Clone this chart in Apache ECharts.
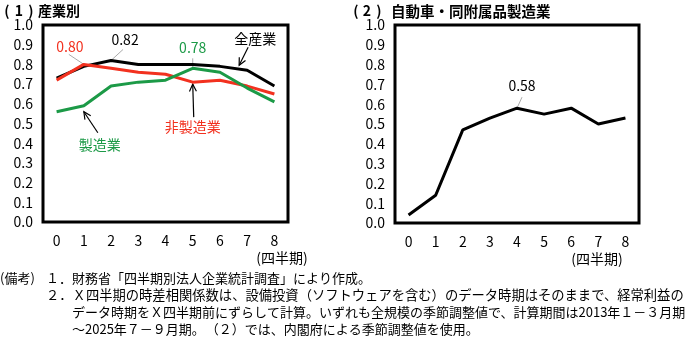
<!DOCTYPE html>
<html lang="ja">
<head>
<meta charset="UTF-8" />
<title>時差相関係数</title>
<script src="https://cdn.jsdelivr.net/npm/echarts@6/dist/echarts.min.js"></script>
<style>
  body { margin: 0; background: #fff; }
  #chart { width: 691px; height: 338px; }
</style>
</head>
<body>
<div id="chart"></div>
<script>
  // データ
  const quarters = ["0", "1", "2", "3", "4", "5", "6", "7", "8"];
  const yTickLabels = ["0.0", "0.1", "0.2", "0.3", "0.4", "0.5", "0.6", "0.7", "0.8", "0.9", "1.0"];
  const allIndustry = [0.73, 0.79, 0.82, 0.80, 0.80, 0.80, 0.79, 0.77, 0.69];
  const nonManufacturing = [0.72, 0.80, 0.78, 0.76, 0.75, 0.71, 0.72, 0.69, 0.65];
  const manufacturing = [0.56, 0.59, 0.69, 0.71, 0.72, 0.78, 0.76, 0.68, 0.61];
  const autoParts = [0.04, 0.14, 0.47, 0.53, 0.58, 0.55, 0.58, 0.50, 0.53];

  const FONT = '"Noto Sans CJK JP", sans-serif';
  const RED = "#f2311f";
  const GREEN = "#1c9a47";

  const chart = echarts.init(document.getElementById("chart"));

  function xAxisOf(i) {
    return {
      type: "category", gridIndex: i, data: quarters, boundaryGap: true,
      axisLine: { show: false }, axisTick: { show: false },
      axisLabel: { color: "#000", fontFamily: FONT, fontSize: 14, margin: 12 }
    };
  }
  function yAxisOf(i) {
    return {
      type: "value", gridIndex: i, min: 0, max: 1, interval: 0.1,
      axisLine: { show: false }, axisTick: { show: false }, splitLine: { show: false },
      axisLabel: {
        color: "#000", fontFamily: FONT, fontSize: 14, margin: 10,
        formatter: (v) => yTickLabels[Math.round(v * 10)]
      }
    };
  }
  function lineOf(data, color, g) {
    return {
      type: "line", data: data, xAxisIndex: g, yAxisIndex: g,
      symbol: "none", lineStyle: { color: color, width: 3 }, itemStyle: { color: color },
      animation: false
    };
  }

  const option = {
    animation: false,
    grid: [
      { left: 43, top: 25, width: 245, height: 197, show: true, borderColor: "#000", borderWidth: 3 },
      { left: 395, top: 25, width: 244, height: 198, show: true, borderColor: "#000", borderWidth: 3 }
    ],
    xAxis: [xAxisOf(0), xAxisOf(1)],
    yAxis: [yAxisOf(0), yAxisOf(1)],
    series: [
      lineOf(allIndustry, "#000", 0),
      lineOf(nonManufacturing, RED, 0),
      lineOf(manufacturing, GREEN, 0),
      lineOf(autoParts, "#000", 1)
    ]
  };
  chart.setOption(option);

  // 文字幅の計測用
  const measureCtx = document.createElement("canvas").getContext("2d");
  function textWidth(str, font) {
    measureCtx.font = font;
    return measureCtx.measureText(str).width;
  }

  // 注記（データ点からの相対位置）
  function pt(g, i, v) {
    return chart.convertToPixel({ xAxisIndex: g, yAxisIndex: g }, [i, v]);
  }
  function text(str, x, y, color, font, align) {
    return {
      type: "text", silent: true,
      style: {
        text: str, x: x, y: y, fill: color || "#000",
        font: font || "14px " + FONT, align: align || "center", verticalAlign: "middle"
      }
    };
  }
  function seg(x1, y1, x2, y2, color, w) {
    return { type: "line", silent: true, shape: { x1, y1, x2, y2 }, style: { stroke: color, lineWidth: w || 1 } };
  }
  function arrow(x1, y1, x2, y2) {
    const a = Math.atan2(y2 - y1, x2 - x1), L = 8, s = 0.45;
    return [
      seg(x1, y1, x2, y2, "#000", 1.2),
      {
        type: "polyline", silent: true,
        shape: { points: [
          [x2 - L * Math.cos(a - s), y2 - L * Math.sin(a - s)], [x2, y2],
          [x2 - L * Math.cos(a + s), y2 - L * Math.sin(a + s)]
        ] },
        style: { stroke: "#000", lineWidth: 1.2, fill: null }
      }
    ];
  }

  const g = [];
  let p;
  // 0.82
  p = pt(0, 2, allIndustry[2]);
  g.push(seg(p[0], p[1], p[0] + 12, p[1] - 11, "#aaa"));
  g.push(text("0.82", p[0] + 14, p[1] - 21));
  // 0.80
  p = pt(0, 1, nonManufacturing[1]);
  g.push(seg(p[0], p[1], p[0] - 15, p[1] - 10, "#aaa"));
  g.push(text("0.80", p[0] - 14, p[1] - 18, RED));
  // 0.78
  p = pt(0, 5, manufacturing[5]);
  g.push(seg(p[0], p[1], p[0], p[1] - 10, "#aaa"));
  g.push(text("0.78", p[0], p[1] - 21, GREEN));
  // 全産業
  p = pt(0, 7, allIndustry[7]);
  g.push(text("全産業", p[0] + 8, p[1] - 32));
  g.push(...arrow(p[0] + 1, p[1] - 23, p[0] - 8, p[1] - 5));
  // 非製造業
  p = pt(0, 5, nonManufacturing[5]);
  g.push(text("非製造業", p[0], p[1] + 45, RED));
  g.push(...arrow(p[0] + 1, p[1] + 35, p[0], p[1] + 2));
  // 製造業
  p = pt(0, 1, manufacturing[1]);
  g.push(text("製造業", p[0] + 16, p[1] + 39, GREEN));
  g.push(...arrow(p[0] + 14, p[1] + 27, p[0], p[1] + 6));
  // 0.58
  p = pt(1, 4, autoParts[4]);
  g.push(seg(p[0], p[1], p[0] + 5, p[1] - 11, "#aaa"));
  g.push(text("0.58", p[0] + 5, p[1] - 22));

  // タイトル・単位
  const TITLE = "bold 14px " + FONT;
  g.push(text("(", 7, 11, "#000", TITLE));
  g.push(text("1", 19, 11, "#000", TITLE));
  g.push(text(")", 31, 11, "#000", TITLE));
  g.push(text("産業別", 38, 11, "#000", TITLE, "left"));
  g.push(text("(", 356, 11, "#000", TITLE));
  g.push(text("2", 367, 11, "#000", TITLE));
  g.push(text(")", 379, 11, "#000", TITLE));
  g.push(text("自動車・同附属品製造業", 391, 11, "#000", "bold 14.5px " + FONT, "left"));
  g.push(text("(四半期)", 282, 258));
  g.push(text("(四半期)", 597, 259));

  // 備考
  const NOTE = "13px " + FONT;
  g.push(text("(備考)", 0, 278, "#000", NOTE, "left"));
  g.push(text("１．財務省「四半期別法人企業統計調査」により作成。", 46, 278, "#000", NOTE, "left"));
  g.push(text("２．Ｘ四半期の時差相関係数は、設備投資（ソフトウェアを含む）のデータ時期はそのままで、経常利益の", 46, 295, "#000", "13.3px " + FONT, "left"));
  g.push(text("データ時期をＸ四半期前にずらして計算。いずれも全規模の季節調整値で、計算期間は2013年１－３月期", 72, 312, "#000", NOTE, "left"));
  const line4a = "～2025年７－９月期。";
  g.push(text(line4a, 72, 329, "#000", NOTE, "left"));
  g.push(text("（２）では、内閣府による季節調整値を使用。", 72 + textWidth(line4a, NOTE) + 1, 329, "#000", NOTE, "left"));

  chart.setOption({ graphic: g });
</script>
</body>
</html>
